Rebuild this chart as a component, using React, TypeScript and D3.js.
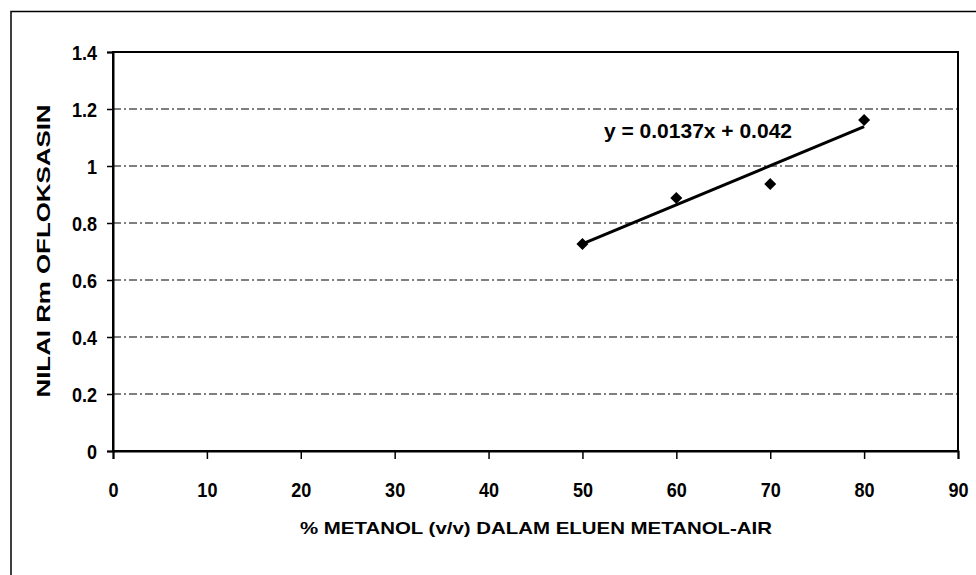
import React, { useEffect, useRef } from "react";
import * as d3 from "d3";

// metanol % in eluent and measured Rm values
const metanolPct = [50, 60, 70, 80];
const rmValues = [0.726, 0.888, 0.937, 1.161];

const xTicks = [0, 10, 20, 30, 40, 50, 60, 70, 80, 90];
const yTicks = [0, 0.2, 0.4, 0.6, 0.8, 1, 1.2, 1.4];

const slope = 0.0137;
const intercept = 0.042;
const equationLabel = "y = 0.0137x + 0.042";

const xTitle = "% METANOL (v/v) DALAM ELUEN METANOL-AIR";
const yTitle = "NILAI Rm OFLOKSASIN";

const App = () => {
  const chartRef = useRef<HTMLDivElement>(null);

  const width = 976;
  const height = 575;
  const margin = { top: 52, right: 18, bottom: 124, left: 113 };

  useEffect(() => {
    const root = d3.select(chartRef.current);
    root.selectAll("*").remove();

    const svg = root
      .append("svg")
      .attr("width", width)
      .attr("height", height)
      .style("display", "block")
      .style("background", "#fff");

    const font = "'Liberation Sans', Arial, sans-serif";
    const squeeze = 0.86; // labels in the scan look condensed

    const xScale = d3
      .scaleLinear()
      .domain([0, 90])
      .range([margin.left, width - margin.right]);
    const yScale = d3
      .scaleLinear()
      .domain([0, 1.4])
      .range([height - margin.bottom, margin.top]);

    // outer chart border (runs off the page at right and bottom)
    svg
      .append("rect")
      .attr("x", 11)
      .attr("y", 11.5)
      .attr("width", width + 20)
      .attr("height", height + 20)
      .attr("fill", "none")
      .attr("stroke", "#000")
      .attr("stroke-width", 1.5);

    // grid lines, dash-dot
    svg
      .append("g")
      .selectAll("line")
      .data(yTicks.filter((d) => d > 0 && d < 1.4))
      .enter()
      .append("line")
      .attr("x1", xScale(0))
      .attr("x2", xScale(90))
      .attr("y1", (d) => yScale(d))
      .attr("y2", (d) => yScale(d))
      .attr("stroke", "#000")
      .attr("stroke-width", 1.2)
      .attr("stroke-dasharray", "8,3,2,3");

    // plot frame
    svg
      .append("rect")
      .attr("x", xScale(0))
      .attr("y", yScale(1.4))
      .attr("width", xScale(90) - xScale(0))
      .attr("height", yScale(0) - yScale(1.4))
      .attr("fill", "none")
      .attr("stroke", "#000")
      .attr("stroke-width", 2);

    // y axis
    const yAxis = d3
      .axisLeft(yScale)
      .tickValues(yTicks)
      .tickSize(6)
      .tickFormat((d) => d3.format("~g")(d as number));
    const gy = svg
      .append("g")
      .attr("transform", `translate(${xScale(0)},0)`)
      .call(yAxis);
    gy.select(".domain").attr("stroke-width", 2);
    gy.selectAll(".tick line").attr("stroke-width", 1.5);
    gy.selectAll("text")
      .attr("x", -16 / squeeze)
      .attr("dy", "0.36em")
      .attr("transform", `scale(${squeeze},1)`)
      .attr("font-family", font)
      .attr("font-weight", "bold")
      .attr("font-size", 21)
      .attr("fill", "#000");

    // x axis
    const xAxis = d3
      .axisBottom(xScale)
      .tickValues(xTicks)
      .tickSize(8)
      .tickFormat(d3.format("d"));
    const gx = svg
      .append("g")
      .attr("transform", `translate(0,${yScale(0)})`)
      .call(xAxis);
    gx.select(".domain").attr("stroke-width", 2);
    gx.selectAll(".tick line").attr("stroke-width", 1.5);
    gx.selectAll("text")
      .attr("y", 46)
      .attr("dy", 0)
      .attr("transform", `scale(${squeeze},1)`)
      .attr("font-family", font)
      .attr("font-weight", "bold")
      .attr("font-size", 21)
      .attr("fill", "#000");

    // linear trendline
    const x0 = d3.min(metanolPct) as number;
    const x1 = d3.max(metanolPct) as number;
    svg
      .append("line")
      .attr("x1", xScale(x0))
      .attr("y1", yScale(slope * x0 + intercept))
      .attr("x2", xScale(x1))
      .attr("y2", yScale(slope * x1 + intercept))
      .attr("stroke", "#000")
      .attr("stroke-width", 3);

    // data points: square turned 45deg, like excel's diamond marker
    const marker = d3.symbol().type(d3.symbolSquare).size(72);
    svg
      .append("g")
      .selectAll("path")
      .data(metanolPct.map((x, i) => ({ x, y: rmValues[i] })))
      .enter()
      .append("path")
      .attr("d", marker)
      .attr(
        "transform",
        (d) => `translate(${xScale(d.x)},${yScale(d.y)}) rotate(45)`
      )
      .attr("fill", "#000");

    // regression equation
    svg
      .append("text")
      .attr("x", 698)
      .attr("y", 138)
      .attr("text-anchor", "middle")
      .attr("font-family", font)
      .attr("font-weight", "bold")
      .attr("font-size", 21)
      .attr("textLength", 188)
      .attr("lengthAdjust", "spacingAndGlyphs")
      .text(equationLabel);

    // axis titles
    svg
      .append("text")
      .attr("x", 536)
      .attr("y", 534)
      .attr("text-anchor", "middle")
      .attr("font-family", font)
      .attr("font-weight", "bold")
      .attr("font-size", 17)
      .attr("textLength", 472)
      .attr("lengthAdjust", "spacingAndGlyphs")
      .text(xTitle);

    svg
      .append("text")
      .attr("transform", `translate(50,251) rotate(-90)`)
      .attr("text-anchor", "middle")
      .attr("font-family", font)
      .attr("font-weight", "bold")
      .attr("font-size", 18)
      .attr("textLength", 293)
      .attr("lengthAdjust", "spacingAndGlyphs")
      .text(yTitle);
  }, []);

  return (
    <div
      ref={chartRef}
      style={{ position: "absolute", left: 0, top: 0, width, height }}
    ></div>
  );
};

export default App;
